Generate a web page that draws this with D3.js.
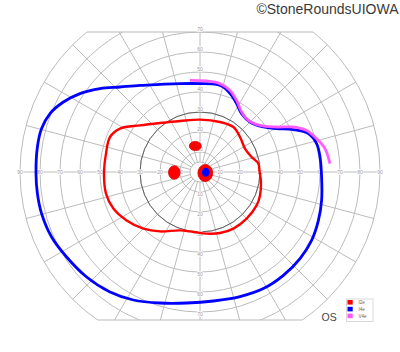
<!DOCTYPE html>
<html><head><meta charset="utf-8">
<script src="https://cdn.jsdelivr.net/npm/d3@7"></script>
<style>html,body{margin:0;padding:0;background:#fff;}svg{display:block;}</style>
</head><body>
<svg id="chart" width="400" height="352"></svg>
<script>
// ---- data (degrees of visual field) ----
const ringDegrees = [5, 10, 20, 30, 40, 50, 60, 70, 80, 90];
const spokeAngles = [0, 15, 30, 45, 60, 75, 90, 105, 120, 135, 150, 165, 180, 195, 210, 225, 240, 255, 270, 285, 300, 315, 330, 345];
const hTickLabels = [10, 20, 30, 40, 50, 60, 70, 80, 90];
const vTickLabels = [10, 20, 30, 40, 50, 60, 70];
const topLimit = 70, bottomLimit = -74;
const centralRing = 30;

// I2e isopter (red)
const i2eX = [-45, -40, -30, -20, -10, 0, 10, 16.7, 20, 22.5, 25.8, 29.2, 29.7, 30.5, 30, 28.3, 23.3, 16.7, 10, 3.3, -3.3, -10, -20, -28.3, -36.7, -43.3, -47, -48, -47];
const i2eY = [17.5, 21.7, 23.3, 24.5, 25.5, 26.2, 25, 22.5, 17.5, 11.7, 7.5, 4.2, 0.8, -5, -11.7, -16.7, -23.3, -28.3, -30.5, -30.8, -30, -29.2, -29.7, -28.3, -24.2, -18.3, -10.8, -0.8, 9.2];
// I4e isopter (blue)
const i4eX = [8.3, 0, -10, -20, -30, -40, -50, -60, -68.3, -75, -79.2, -81.3, -82, -81.3, -79.2, -74.2, -66.7, -56.7, -45, -33.3, -20, -6.7, 6.7, 20, 31.7, 41.7, 50, 55.8, 59.2, 60.8, 60.8, 60, 58.3, 54.2, 46.7, 38.3, 31.7, 25, 20.8, 18.3, 15.8, 11.7];
const i4eY = [43.8, 44.2, 44.2, 43.8, 43.3, 42.5, 41.7, 39.2, 35, 29.2, 21.7, 12.5, -0.8, -10.8, -20.8, -32.5, -42.5, -52.5, -60, -64, -65.5, -65.5, -64.5, -62.3, -58.3, -51.7, -43.3, -34.2, -24.2, -14.2, -2.5, 7.5, 14.2, 19.2, 21.2, 21.7, 22.5, 25, 29.2, 34.2, 38.3, 42.5];
// V4e isopter (magenta, open)
const v4eX = [-5, 3.3, 10, 15, 18.3, 20.8, 24.2, 30, 38.3, 46.7, 53.3, 58.3, 62.5, 65];
const v4eY = [45.8, 45.5, 44.2, 40.8, 35.8, 30, 25.8, 23.3, 22.5, 22.5, 20.8, 16.7, 11.7, 4.2];
// small I2e islands (red) and I4e island (blue): centre and radii in degrees
const i2eIslandX = [-2.35, -12.85, 2.65];
const i2eIslandY = [13, -0.25, -0.5];
const i2eIslandRx = [3, 2.9, 3.7];
const i2eIslandRy = [2.3, 3.4, 4.3];
const i4eIslandX = [2.85];
const i4eIslandY = [-0.15];
const i4eIslandRx = [1.9];
const i4eIslandRy = [2.25];

const legendLabels = ["I2e", "I4e", "V4e"];
const legendColors = ["#ff0000", "#0000ff", "#ff55ff"];

// ---- scales ----
const svg = d3.select("#chart");
const x = d3.scaleLinear().domain([-90, 90]).range([20, 380]);
const y = d3.scaleLinear().domain([-90, 90]).range([352, -8]);
const r = d3.scaleLinear().domain([0, 90]).range([0, 180]);
const cx = x(0), cy = y(0);

svg.append("defs").append("clipPath").attr("id", "clip")
  .append("rect").attr("x", 0).attr("y", y(topLimit)).attr("width", 400).attr("height", y(bottomLimit) - y(topLimit));

const grid = svg.append("g").attr("clip-path", "url(#clip)")
  .attr("fill", "none").attr("stroke", "#bcbcbc").attr("stroke-width", 1);

grid.selectAll("circle.ring").data(ringDegrees).join("circle")
  .attr("class", "ring").attr("cx", cx).attr("cy", cy).attr("r", d => r(d));

grid.selectAll("line.spoke").data(spokeAngles).join("line")
  .attr("class", "spoke")
  .attr("x1", a => cx + r(5) * Math.cos(a * Math.PI / 180))
  .attr("y1", a => cy - r(5) * Math.sin(a * Math.PI / 180))
  .attr("x2", a => cx + r(90) * Math.cos(a * Math.PI / 180))
  .attr("y2", a => cy - r(90) * Math.sin(a * Math.PI / 180));

// top & bottom limit lines
[topLimit, bottomLimit].forEach(lim => {
  const half = Math.sqrt(90 * 90 - lim * lim);
  svg.append("line").attr("x1", x(-half)).attr("x2", x(half))
    .attr("y1", y(lim)).attr("y2", y(lim))
    .attr("stroke", "#bcbcbc").attr("stroke-width", 1.2);
});

// central 30 deg ring
svg.append("circle").attr("cx", cx).attr("cy", cy).attr("r", r(centralRing))
  .attr("fill", "none").attr("stroke", "#555").attr("stroke-width", 0.9);

// tick labels
const lab = svg.append("g").attr("font-family", "Liberation Sans, Arial, sans-serif")
  .attr("font-size", 5).attr("fill", "#999").attr("text-anchor", "middle")
  .attr("stroke", "#fff").attr("stroke-width", 1.5).attr("paint-order", "stroke");
hTickLabels.forEach(d => {
  lab.append("text").attr("x", x(-d)).attr("y", cy + 1.8).text(d);
  lab.append("text").attr("x", x(d)).attr("y", cy + 1.8).text(d);
});
vTickLabels.forEach(d => {
  lab.append("text").attr("x", cx).attr("y", y(d) - 1.2).text(d);
  lab.append("text").attr("x", cx).attr("y", y(-d) + 4).text(d);
});

// isopters
const toPts = (xs, ys) => xs.map((v, i) => [x(v), y(ys[i])]);
const closedLine = d3.line().curve(d3.curveCatmullRomClosed.alpha(0.5));
const openLine = d3.line().curve(d3.curveCatmullRom.alpha(0.5));

svg.append("path").attr("d", closedLine(toPts(i2eX, i2eY)))
  .attr("fill", "none").attr("stroke", "#ff0000").attr("stroke-width", 2.4);
svg.append("path").attr("d", closedLine(toPts(i4eX, i4eY)))
  .attr("fill", "none").attr("stroke", "#0000ff").attr("stroke-width", 2.8);
svg.append("path").attr("d", openLine(toPts(v4eX, v4eY)))
  .attr("fill", "none").attr("stroke", "#ff55ff").attr("stroke-width", 2.8).attr("stroke-opacity", 0.95);

svg.selectAll("ellipse.i2e").data(i2eIslandX).join("ellipse").attr("class", "i2e")
  .attr("cx", (d, i) => x(d)).attr("cy", (d, i) => y(i2eIslandY[i]))
  .attr("rx", (d, i) => r(i2eIslandRx[i])).attr("ry", (d, i) => r(i2eIslandRy[i]))
  .attr("fill", "#ff0000").attr("stroke", "#e00000").attr("stroke-width", 0.8);
svg.selectAll("ellipse.i4e").data(i4eIslandX).join("ellipse").attr("class", "i4e")
  .attr("cx", (d, i) => x(d)).attr("cy", (d, i) => y(i4eIslandY[i]))
  .attr("rx", (d, i) => r(i4eIslandRx[i])).attr("ry", (d, i) => r(i4eIslandRy[i]))
  .attr("fill", "#0000ff");

// legend
const lg = svg.append("g");
lg.append("rect").attr("x", 346.5).attr("y", 299).attr("width", 26.5).attr("height", 22.5)
  .attr("fill", "#fff").attr("stroke", "#cfcfcf").attr("stroke-width", 0.8);
legendLabels.forEach((t, i) => {
  lg.append("rect").attr("x", 347.5).attr("y", 300 + i * 6.8).attr("width", 5.2).attr("height", 4.6)
    .attr("fill", legendColors[i]);
  lg.append("text").attr("x", 358.5).attr("y", 304.2 + i * 6.8)
    .attr("font-family", "Liberation Sans, Arial, sans-serif").attr("font-size", 4.6)
    .attr("fill", "#666").text(t);
});

svg.append("text").attr("x", 321.5).attr("y", 320.5)
  .attr("font-family", "Liberation Sans, Arial, sans-serif").attr("font-size", 10.5)
  .attr("fill", "#444").text("OS");

svg.append("text").attr("x", 398.5).attr("y", 14).attr("text-anchor", "end")
  .attr("font-family", "Liberation Sans, Arial, sans-serif").attr("font-size", 14)
  .attr("fill", "#3a3a3a").text("©StoneRoundsUIOWA");
</script>
</body></html>
